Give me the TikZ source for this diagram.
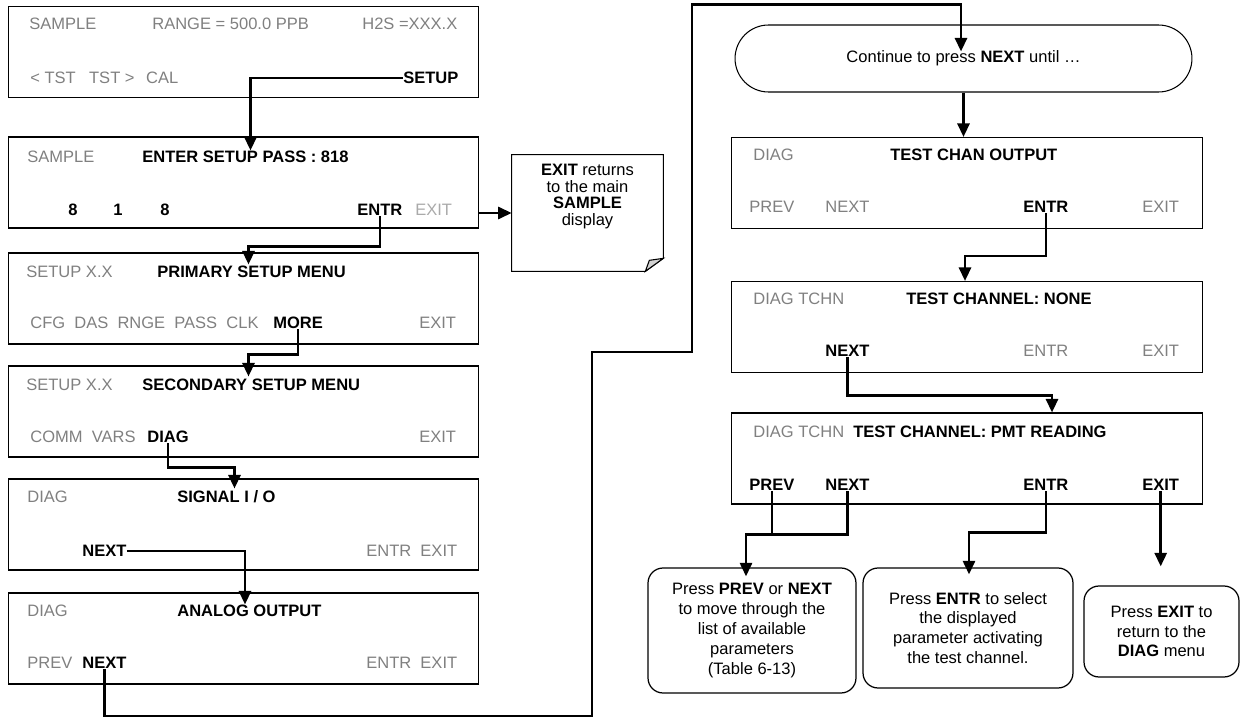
\documentclass[tikz,border=0pt]{standalone}
\usepackage{fontspec}
\setmainfont{Liberation Sans}
\usetikzlibrary{arrows.meta, positioning, calc}
\definecolor{keygray}{RGB}{128,128,128}
\definecolor{paleexit}{RGB}{170,170,170}
\newcommand{\scrfont}{\fontsize{9.4}{11.3}\selectfont}

\begin{document}
\begin{tikzpicture}[
  x=0.02cm, y=-0.02cm,
  screen/.style={draw, line width=0.6pt, minimum width=9.42cm,
                 minimum height=1.82cm, inner sep=0pt},
  keyoff/.style={anchor=west, inner sep=0pt, text height=6.8pt,
                 text depth=0pt, font=\scrfont, text=keygray},
  keyon/.style={keyoff, font=\scrfont\bfseries, text=black},
  bubble/.style={draw, line width=0.7pt, rounded corners=0.3cm,
                 align=center, font=\scrfont, inner sep=0pt},
  arr/.style={-{Triangle[length=0.27cm,width=0.24cm]}, line width=1.5pt},
  wire/.style={line width=1.5pt},
]
\useasboundingbox (0,0) rectangle (1241,719);

% left column of displays
\node[screen] (box1) at (243.5,52)    {};
\node[screen] (box2) at (243.5,182.5) {};
\node[screen] (box3) at (243.5,298.5) {};
\node[screen] (box4) at (243.5,411.5) {};
\node[screen] (box5) at (243.5,524.5) {};
\node[screen] (box6) at (243.5,638.5) {};

\node[keyoff] (smp1)  at (29,24)   {SAMPLE};
\node[keyoff] (rng1)  at (152,24)  {RANGE = 500.0 PPB};
\node[keyoff] (h2s1)  at (362,24)  {H2S =XXX.X};
\node[keyoff] (tst1)  at (30,78)   {< TST\hspace{5pt} TST >\hspace{4pt} CAL};
\node[keyon]  (setup) at (403,78)  {SETUP};

\node[keyoff] (smp2)  at (27,157)  {SAMPLE};
\node[keyon]  (pass)  at (142,157) {ENTER SETUP PASS : 818};
\node[keyon]  (dig1)  at (68,210)  {8};
\node[keyon]  (dig2)  at (113,210) {1};
\node[keyon]  (dig3)  at (160,210) {8};
\node[keyon]  (entr2) at (357,210) {ENTR};
\node[keyoff, text=paleexit] (exit2) at (415,210) {EXIT};

\node[keyoff] (setup3) at (26,272)  {SETUP X.X};
\node[keyon]  (prim)   at (157,272) {PRIMARY SETUP MENU};
\node[keyoff] (cfg3)   at (30,323)  {CFG~~DAS~~RNGE~~PASS~~CLK};
\node[keyon]  (more)   at (273,323) {MORE};
\node[keyoff] (exit3)  at (419,323) {EXIT};

\node[keyoff] (setup4) at (26,385)  {SETUP X.X};
\node[keyon]  (sec)    at (142,385) {SECONDARY SETUP MENU};
\node[keyoff] (comm4)  at (30,437)  {COMM~~VARS};
\node[keyon]  (diag4)  at (147,437) {DIAG};
\node[keyoff] (exit4)  at (419,437) {EXIT};

\node[keyoff] (diag5) at (27,497)  {DIAG};
\node[keyon]  (sig)   at (177,497) {SIGNAL I / O};
\node[keyon]  (next5) at (82,551)  {NEXT};
\node[keyoff] (ee5)   at (366,551) {ENTR~~EXIT};

\node[keyoff] (diag6) at (27,611)  {DIAG};
\node[keyon]  (ana)   at (177,611) {ANALOG OUTPUT};
\node[keyoff] (prev6) at (27,663)  {PREV};
\node[keyon]  (next6) at (82,663)  {NEXT};
\node[keyoff] (ee6)   at (366,663) {ENTR~~EXIT};

% note with folded corner
\node[minimum width=3.02cm, minimum height=2.32cm, inner sep=0pt] (note) at (587.5,213) {};
\draw[line width=0.6pt] (note.south west) -- (note.north west) -- (note.north east)
    -- ($(note.south east)+(0,-13)$) -- ($(note.south east)+(-18,0)$) -- cycle;
\filldraw[fill=gray!35, line width=0.6pt] ($(note.south east)+(0,-13)$)
    -- ($(note.south east)+(-18,0)$) -- ($(note.south east)+(-14,-11)$) -- cycle;
\node[align=center, font=\fontsize{9.4}{9.4}\selectfont, inner sep=0pt] (notetext) at (587.5,196.5)
    {\textbf{EXIT} returns\\to the main\\\textbf{SAMPLE}\\display};

% right column
\node[draw, line width=0.6pt, rounded corners=0.67cm, minimum width=9.14cm,
      minimum height=1.34cm, inner sep=0pt, font=\scrfont] (pill) at (963.5,58.5)
    {Continue to press \textbf{NEXT} until …};

\node[screen] (box7) at (967,183)   {};
\node[screen] (box8) at (967,327)   {};
\node[screen] (box9) at (967,458.5) {};

\node[keyoff] (diag7) at (753,155)  {DIAG};
\node[keyon]  (tco)   at (890,155)  {TEST CHAN OUTPUT};
\node[keyoff] (prev7) at (749,207)  {PREV};
\node[keyoff] (next7) at (825,207)  {NEXT};
\node[keyon]  (entr7) at (1023,207) {ENTR};
\node[keyoff] (exit7) at (1142,207) {EXIT};

\node[keyoff] (dt8)   at (753,299)  {DIAG TCHN};
\node[keyon]  (tcn)   at (906,299)  {TEST CHANNEL: NONE};
\node[keyon]  (next8) at (825,351)  {NEXT};
\node[keyoff] (entr8) at (1023,351) {ENTR};
\node[keyoff] (exit8) at (1142,351) {EXIT};

\node[keyoff] (dt9)   at (753,432)  {DIAG TCHN};
\node[keyon]  (pmt)   at (853,432)  {TEST CHANNEL: PMT READING};
\node[keyon]  (prev9) at (749,485)  {PREV};
\node[keyon]  (next9) at (825,485)  {NEXT};
\node[keyon]  (entr9) at (1023,485) {ENTR};
\node[keyon]  (exit9) at (1142,485) {EXIT};

% hints at the bottom
\node[bubble, minimum width=4.16cm, minimum height=2.5cm] (pbox) at (752,630.5)
    {Press \textbf{PREV} or \textbf{NEXT}\\to move through the\\list of available\\parameters\\(Table 6-13)};
\node[bubble, minimum width=4.2cm, minimum height=2.4cm] (ebox) at (968,628)
    {Press \textbf{ENTR} to select\\the displayed\\parameter activating\\the test channel.};
\node[bubble, minimum width=3.1cm, minimum height=1.82cm] (xbox) at (1161.5,631.5)
    {Press \textbf{EXIT} to\\return to the\\\textbf{DIAG} menu};

% connectors
\draw[arr] (setup.west) -| ($(box2.north)+(7,14)$);
\draw[arr] (entr2.south) |- ($(box3.north)+(5,-6)$) -- ($(box3.north)+(5,12)$);
\draw[arr] (more.south) |- ($(box4.north)+(5,-11)$) -- ($(box4.north)+(5,11)$);
\draw[arr] (diag4.south) |- ($(box5.north)+(-9,-11)$) -- ($(box5.north)+(-9,10)$);
\draw[arr] (next5.east) -| ($(box6.north)+(1.5,12)$);
\draw[arr] (note.west -| box2.east) -- (note.west);
\draw[arr] (next6.south) |- (592,716) |- (692,352) |- ($(pill.north)+(-2.5,-20)$)
    -- ($(pill.north)+(-2.5,27)$);
\draw[arr] (pill.south) -- (pill.south |- box7.north);
\draw[arr] (entr7.south) |- ($(box8.north)+(-2,-25)$) -- ($(box8.north)+(-2,0)$);
\draw[arr] (next8.south) |- ($(box9.north)+(85,-17)$) -- ($(box9.north)+(85,0)$);
\coordinate (pjoin) at ($(pbox.north)+(-6,-33)$);
\draw[arr] (next9.south) |- (pjoin) -- ($(pbox.north)+(-6,9)$);
\draw[wire] (prev9.south) -- (prev9.south |- pjoin);
\draw[arr] (entr9.south) |- ($(ebox.north)+(1,-35)$) -- ($(ebox.north)+(1,7)$);
\draw[arr] (exit9.south) -- ($(exit9.south |- xbox.north)+(0,-19)$);

\end{tikzpicture}
\end{document}
